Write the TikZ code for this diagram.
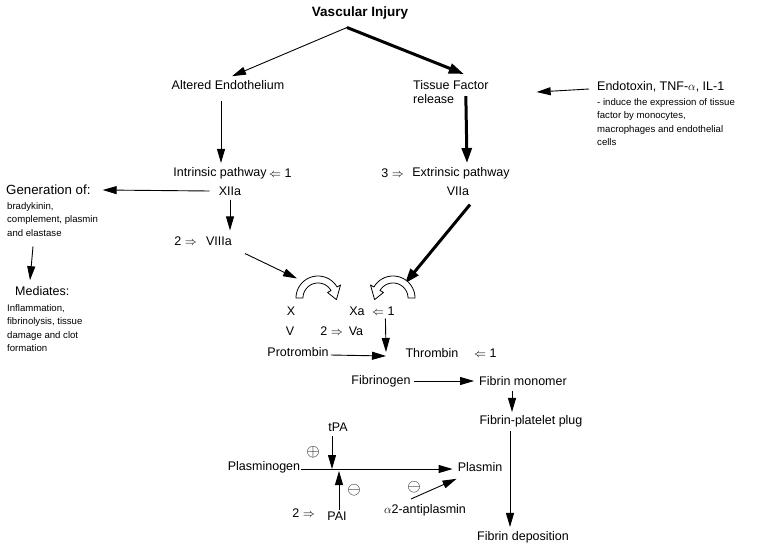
\documentclass[tikz,border=0pt]{standalone}
\usepackage{fontspec}
\setmainfont{Liberation Sans}
\usetikzlibrary{arrows.meta,calc}
\begin{document}
\begin{tikzpicture}[x=1pt,y=-1pt,
  lbl/.style={font=\fontsize{12.5}{14.5}\selectfont, inner sep=0pt},
  sml/.style={font=\fontsize{9.6}{13.5}\selectfont, inner sep=0pt, align=left},
  sym/.style={font=\fontsize{18}{18}\selectfont, inner sep=0pt},
  thinarrow/.style={line width=0.9pt, -{Triangle[length=14pt,width=8pt]}},
  thickarrow/.style={line width=3pt, -{Triangle[length=15pt,width=10pt]}},
  blockarrow/.style={fill=white, draw=black, line width=0.8pt, line join=round}]

\useasboundingbox (0,0) rectangle (759,548);

% nodes
\node[lbl, font=\bfseries\fontsize{13.5}{15}\selectfont] (vi) at (360,13) {Vascular Injury};
\node[lbl] (ae) at (228,85) {Altered Endothelium};
\node[lbl, anchor=north west, align=left] (tf) at (413,80) {Tissue Factor\\release};
\node[lbl, anchor=west] (endo) at (597,87) {Endotoxin, TNF-$\alpha$, IL-1};
\node[sml, anchor=north west] (induce) at (597,98) {- induce the expression of tissue\\factor by monocytes,\\macrophages and endothelial\\cells};

\node[lbl] (ip) at (220,173) {Intrinsic pathway};
\node[lbl, anchor=west] (ip1) at (269,173) {$\Leftarrow$ 1};
\node[lbl] (ep) at (461,173) {Extrinsic pathway};
\node[lbl, anchor=east] (ep3) at (404,173) {3 $\Rightarrow$};

\node[lbl, anchor=west, font=\fontsize{13.3}{15}\selectfont] (gen) at (6,190) {Generation of:};
\node[lbl] (xiia) at (230,191) {XIIa};
\node[lbl] (viia) at (458,191) {VIIa};
\node[sml, anchor=north west] (brady) at (7,202) {bradykinin,\\complement, plasmin\\and elastase};

\node[lbl] (viiia) at (219,241) {VIIIa};
\node[lbl, anchor=east] (viiia2) at (197,241) {2 $\Rightarrow$};

\node[lbl, anchor=west] (med) at (15,291) {Mediates:};
\node[sml, anchor=north west] (infl) at (7,304) {Inflammation,\\fibrinolysis, tissue\\damage and clot\\formation};

\node[lbl] (x) at (291,311) {X};
\node[lbl] (xa) at (357,311) {Xa};
\node[lbl, anchor=west] (xa1) at (372,311) {$\Leftarrow$ 1};
\node[lbl] (v) at (290,331) {V};
\node[lbl, anchor=east] (va2) at (343,331) {2 $\Rightarrow$};
\node[lbl] (va) at (356,331) {Va};
\node[lbl] (prot) at (298,352) {Protrombin};
\node[lbl] (thr) at (432,353) {Thrombin};
\node[lbl, anchor=west] (thr1) at (474,353) {$\Leftarrow$ 1};
\coordinate (conv) at (386,356);

\node[lbl] (fibgen) at (381,381) {Fibrinogen};
\node[lbl] (fibmon) at (523,381) {Fibrin monomer};
\node[lbl] (fpp) at (531,421) {Fibrin-platelet plug};
\node[lbl] (fdep) at (523,537) {Fibrin deposition};

\node[lbl] (tpa) at (338,427) {tPA};
\node[sym] (plus) at (313,452) {$\oplus$};
\node[lbl] (plgen) at (264,467) {Plasminogen};
\node[lbl] (plasmin) at (480,467) {Plasmin};
\coordinate (j1) at (332,469);
\coordinate (j2) at (339,471);
\node[sym] (min1) at (354,490) {$\ominus$};
\node[sym] (min2) at (414,487) {$\ominus$};
\node[lbl, anchor=east] (pai2) at (315,513) {2 $\Rightarrow$};
\node[lbl] (pai) at (337,516) {PAI};
\node[lbl] (a2) at (425,510) {$\alpha$2-antiplasmin};

% connectors
\draw[thinarrow] ([shift={(-13,8)}]vi.south) -- ([shift={(4,-4)}]ae.north);
\draw[thickarrow] ([shift={(-13,8)}]vi.south) -- ([shift={(13,-6)}]tf.north);
\draw[thinarrow] ([shift={(-7,11)}]ae.south) -- ([shift={(1,-4)}]ip.north);
\draw[thickarrow] ([shift={(15,-8)}]tf.south) -- ([shift={(6,-4)}]ep.north);
\draw[thinarrow] ([shift={(-8,2)}]endo.west) -- ([shift={(48,0)}]tf.east);
\draw[thinarrow] ([shift={(-9,0)}]xiia.west) -- ([shift={(12,0)}]gen.east);
\draw[thinarrow] ([shift={(0,4)}]xiia.south) -- ([shift={(11,-6)}]viiia.north);
\draw[thinarrow] ([shift={(26,10)}]brady.south west) -- ([shift={(15,-6)}]med.north west);
\draw[thinarrow] ([shift={(13,8)}]viiia.south east) -- ([shift={(6,-28)}]x.north);
\draw[thickarrow] ([shift={(12,9)}]viia.south) -- ([shift={(48,-23)}]xa.north);
\draw[thinarrow] ([shift={(2,3)}]xa1.south) -- ([shift={(0,-4)}]conv);
\draw[thinarrow] ([shift={(2,3)}]prot.east) -- (conv);
\draw[thinarrow] ([shift={(3,0)}]fibgen.east) -- ([shift={(-5,0)}]fibmon.west);
\draw[thinarrow] ([shift={(-11,5)}]fibmon.south) -- ([shift={(-19,-3)}]fpp.north);
\draw[thinarrow] ([shift={(-21,4)}]fpp.south) -- ([shift={(-13,-4)}]fdep.north);
\draw[thinarrow] ([shift={(-6,4)}]tpa.south) -- (j1);
\draw[thinarrow] ([shift={(1,2)}]plgen.east) -- ([shift={(-5,2)}]plasmin.west);
\draw[thinarrow] ([shift={(2,-2)}]pai.north) -- (j2);
\draw[thinarrow] ([shift={(-14,-5)}]a2.north) -- ([shift={(-1,7)}]plasmin.south west);

% curved block arrows
\draw[blockarrow]
  plot[domain=180:330, samples=30] ({318+22*cos(\x)},{298+22*sin(\x)})
  -- ({318+26*cos(330)},{298+26*sin(330)})
  -- ({318+18.5*cos(5)},{298+18.5*sin(5)})
  -- ({318+11*cos(330)},{298+11*sin(330)})
  -- plot[domain=330:180, samples=30] ({318+15*cos(\x)},{298+15*sin(\x)})
  -- cycle;
\draw[blockarrow]
  plot[domain=360:210, samples=30] ({393+22*cos(\x)},{298+22*sin(\x)})
  -- ({393+26*cos(210)},{298+26*sin(210)})
  -- ({393+18.5*cos(175)},{298+18.5*sin(175)})
  -- ({393+11*cos(210)},{298+11*sin(210)})
  -- plot[domain=210:360, samples=30] ({393+15*cos(\x)},{298+15*sin(\x)})
  -- cycle;
\end{tikzpicture}
\end{document}
